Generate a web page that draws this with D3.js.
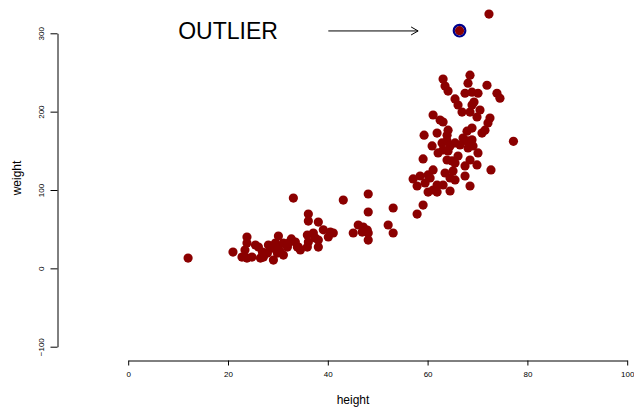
<!DOCTYPE html>
<html>
<head>
<meta charset="utf-8">
<script src="https://cdn.jsdelivr.net/npm/d3@7"></script>
<style>
  html, body { margin: 0; padding: 0; background: #fff; }
  svg { display: block; }
  text { font-family: "Liberation Sans", Arial, Helvetica, sans-serif; }
</style>
</head>
<body>
<svg id="chart" width="634" height="411"></svg>
<script>
// ---- data ----
const heights = [
  63.1,63.5,64.1,68.5,68.1,71.9,67.5,68.9,70.1,73.9,74.5,65.5,66.1,69.3,68.9,66.9,68.5,70.5,
  61.1,62.5,63.1,69.9,72.5,72.1,59.3,61.9,64.1,63.9,67.9,68.9,70.9,71.5,77.2,60.9,62.9,63.9,
  64.5,63.1,64.1,65.5,66.5,67.1,67.9,68.9,69.1,68.1,70.1,62.1,59.1,63.9,64.9,66.1,65.5,68.5,
  67.5,69.9,72.7,61.1,60.1,57.1,58.5,63.5,64.5,65.1,67.5,60.5,59.5,65.5,57.9,60.1,61.1,61.9,
  63.1,61.9,64.5,68.5,59.1,57.9,
  12.0,21.0,23.8,23.8,23.4,22.8,23.8,24.8,26.1,26.9,26.5,27.1,27.9,28.1,29.1,29.9,30.1,31.1,
  31.9,32.7,33.9,33.1,25.5,28.9,29.5,30.1,30.5,31.1,32.1,33.5,34.1,34.5,35.9,36.1,36.1,38.1,
  35.9,36.1,37.1,37.5,38.1,38.1,39.1,40.5,41.1,40.1,43.1,45.1,46.1,47.1,47.9,48.1,46.9,48.1,
  48.1,48.1,53.1,52.1,53.1
];
const weights = [
  241.7,232.7,226.3,246.5,236.3,233.7,223.5,224.8,223.5,223.5,217.1,216.3,208.5,212.3,208.5,199.5,199.5,202.1,
  195.7,189.3,186.8,193.2,191.9,185.5,170.0,172.6,176.4,170.0,175.1,179.0,172.6,176.4,162.1,156.3,160.1,162.7,
  156.3,151.2,149.9,160.1,157.5,166.4,162.7,164.0,156.3,153.7,147.3,147.3,139.6,138.3,137.1,143.4,134.5,138.3,
  130.7,132.0,125.6,125.6,119.2,114.1,117.9,121.7,115.4,124.3,117.9,115.4,109.0,112.8,105.1,97.4,100.0,106.4,
  106.4,97.4,98.7,105.1,80.8,69.3,
  13.1,20.8,39.9,32.3,23.4,14.4,13.1,14.4,27.2,20.8,13.1,14.4,19.5,29.8,10.6,19.5,41.2,17.0,
  27.2,37.5,27.2,89.7,29.8,25.9,32.3,25.9,20.8,32.3,32.3,33.6,27.2,23.4,27.2,69.3,60.4,59.1,
  42.5,33.6,45.1,38.7,36.1,27.2,49.2,46.3,45.1,40.0,87.2,45.1,55.3,52.7,48.9,45.1,46.3,36.1,
  94.9,71.9,77.0,55.3,45.1
];
// extra high points at the top
const extraHeights = [66.4, 72.3];
const extraWeights = [303.3, 324.6];
// the ringed outlier
const outlierHeight = 66.4;
const outlierWeight = 303.3;

const xTicks = [0, 20, 40, 60, 80, 100];
const yTicks = [-100, 0, 100, 200, 300];
const xLabel = "height";
const yLabel = "weight";
const noteText = "OUTLIER";
const arrowFrom = [40.1, 303.0];
const arrowTo = [58.1, 303.0];
const noteAt = [20.0, 303.0];

// ---- drawing ----
const svg = d3.select("#chart");
const x = d3.scaleLinear().domain([0, 100]).range([128.2, 627.2]);
const y = d3.scaleLinear().domain([-100, 300]).range([346.7, 33.3]);

const ptColor = "#8B0000";

// x axis
const xAxis = svg.append("g")
  .attr("transform", "translate(0,360.5)")
  .call(d3.axisBottom(x).tickValues(xTicks).tickSize(5).tickPadding(6).tickSizeOuter(0).tickFormat(d3.format("d")));
xAxis.select(".domain").attr("stroke", "#000").attr("stroke-width", 1);
xAxis.selectAll(".tick line").attr("stroke", "#000");
xAxis.selectAll(".tick text").attr("font-size", "8px").attr("fill", "#000")
  .attr("font-family", "'Liberation Sans', Arial, sans-serif");

// y axis
const yAxis = svg.append("g")
  .attr("transform", "translate(57.5,0)")
  .call(d3.axisLeft(y).tickValues(yTicks).tickSize(7).tickSizeOuter(0).tickFormat(d => d < 0 ? "\u2212" + Math.abs(d) : d));
yAxis.select(".domain").attr("stroke", "#000").attr("stroke-width", 1);
yAxis.selectAll(".tick line").attr("stroke", "#000");
yAxis.selectAll(".tick text")
  .attr("font-size", "8px").attr("fill", "#000")
  .attr("font-family", "'Liberation Sans', Arial, sans-serif")
  .attr("x", null).attr("dy", null)
  .attr("text-anchor", "middle")
  .attr("transform", "translate(-14,0) rotate(-90)");

// axis titles
svg.append("text").attr("x", 353).attr("y", 404)
  .attr("text-anchor", "middle").attr("font-size", "12px").attr("fill", "#000").text(xLabel);
svg.append("text")
  .attr("transform", "translate(21,178) rotate(-90)")
  .attr("text-anchor", "middle").attr("font-size", "12px").attr("fill", "#000").text(yLabel);

// points
const pts = heights.map((h, i) => [h, weights[i]])
  .concat(extraHeights.map((h, i) => [h, extraWeights[i]]));
svg.append("g").selectAll("circle").data(pts).join("circle")
  .attr("cx", d => x(d[0])).attr("cy", d => y(d[1]))
  .attr("r", 4.6).attr("fill", ptColor);

// ring around outlier
svg.append("circle")
  .attr("cx", x(outlierHeight)).attr("cy", y(outlierWeight))
  .attr("r", 5.8).attr("fill", "none").attr("stroke", "#00008B").attr("stroke-width", 2.2);

// annotation
svg.append("text").attr("x", x(noteAt[0])).attr("y", y(noteAt[1]) + 8.5)
  .attr("text-anchor", "middle").attr("font-size", "23px").attr("fill", "#000").text(noteText);

const ax1 = x(arrowFrom[0]), ay = y(arrowFrom[1]), ax2 = x(arrowTo[0]);
svg.append("line").attr("x1", ax1).attr("y1", ay).attr("x2", ax2).attr("y2", ay)
  .attr("stroke", "#000").attr("stroke-width", 1);
svg.append("path")
  .attr("d", `M${ax2 - 7},${ay - 4}L${ax2},${ay}L${ax2 - 7},${ay + 4}`)
  .attr("fill", "none").attr("stroke", "#000").attr("stroke-width", 1);
</script>
</body>
</html>
